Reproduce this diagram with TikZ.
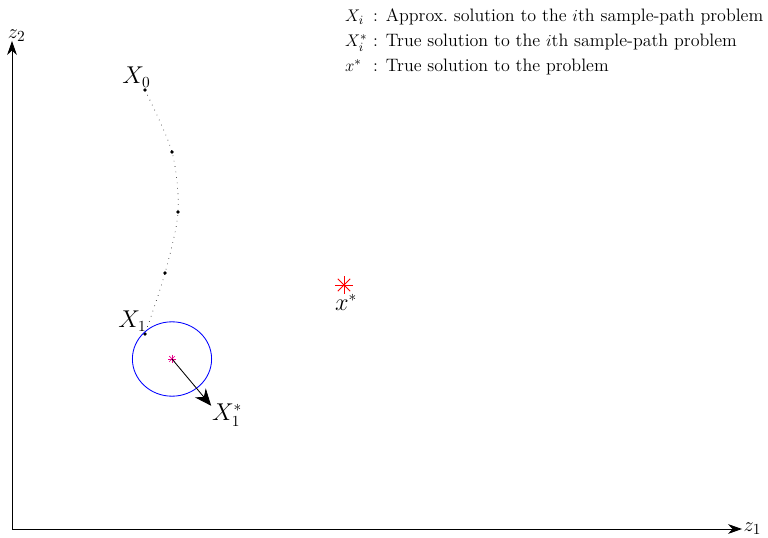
\documentclass[tikz,border=0pt]{standalone}
\usepackage{amsmath,amssymb}
\usepackage{tikz}
\usetikzlibrary{arrows.meta,positioning,calc}

\begin{document}
\begin{tikzpicture}[
    axis/.style={-{Stealth[length=10pt,width=7pt]}, line width=0.6pt},
    iterate/.style={circle, fill=black, inner sep=0pt, minimum size=2.6pt},
    lbl/.style={font=\fontsize{16}{18}\selectfont, inner sep=1pt},
    >=Stealth
]
    \useasboundingbox (0,0) rectangle (19.2,13.425);

    % axes
    \coordinate (o) at (0.3,0.2);
    \coordinate (xend) at (18.55,0.2);
    \coordinate (yend) at (0.3,12.4);
    \draw[axis] (o) -- (xend);
    \draw[axis] (o) -- (yend);
    \node[lbl, anchor=west, font=\fontsize{15}{17}\selectfont] (zone) at (xend) {$z_1$};
    \node[lbl, anchor=south, font=\fontsize{15}{17}\selectfont] (ztwo) at ($(yend)+(0.12,-0.05)$) {$z_2$};

    % iterates of the first sample-path problem
    \node[iterate] (x0) at (3.625,11.175) {};
    \node[iterate] (p1) at (4.3,9.625) {};
    \node[iterate] (p2) at (4.45,8.125) {};
    \node[iterate] (p3) at (4.125,6.6) {};
    \node[iterate] (x1) at (3.625,5.075) {};
    \draw[dash pattern=on 0.4pt off 3.5pt, line width=0.5pt] plot[smooth] coordinates {(x0) (p1) (p2) (p3) (x1)};
    \node[lbl, anchor=south east] (x0lbl) at ($(x0)+(0.18,0.02)$) {$X_0$};
    \node[lbl, anchor=south east] (x1lbl) at ($(x1)+(0.08,0.02)$) {$X_1$};

    % neighbourhood of the sample-path solution
    \coordinate (c1) at (4.3,4.45);
    \draw[blue, line width=0.6pt] (c1) ellipse [x radius=0.99, y radius=0.93];
    \foreach \a in {0,45,90,135}
        \draw[magenta, line width=0.5pt] ($(c1)+(\a:0.1)$) -- ($(c1)+(\a+180:0.1)$);
    \coordinate (x1s) at (5.28,3.28);
    \draw[-{Stealth[length=12pt,width=10pt]}, line width=0.6pt] (c1) -- (x1s);
    \node[lbl, anchor=north west] (x1slbl) at ($(x1s)+(-0.02,0.1)$) {$X_1^*$};

    % true solution
    \coordinate (xstar) at (8.6,6.3);
    \foreach \a in {0,45,90,135}
        \draw[red, line width=0.6pt] ($(xstar)+(\a:0.22)$) -- ($(xstar)+(\a+180:0.22)$);
    \node[lbl, anchor=north] (xslbl) at ($(xstar)+(0.05,-0.2)$) {$x^*$};

    % legend
    \node[anchor=base west, inner sep=0pt, font=\fontsize{12.8}{14.5}\selectfont] (legend) at (8.62,12.875) {%
        \renewcommand{\arraystretch}{1.22}%
        \begin{tabular}[t]{@{}l@{\ : }l@{}}
            $X_i$ & Approx.\ solution to the $i$th sample-path problem\\
            $X_i^*$ & True solution to the $i$th sample-path problem\\
            $x^*$ & True solution to the problem
        \end{tabular}};
\end{tikzpicture}
\end{document}
